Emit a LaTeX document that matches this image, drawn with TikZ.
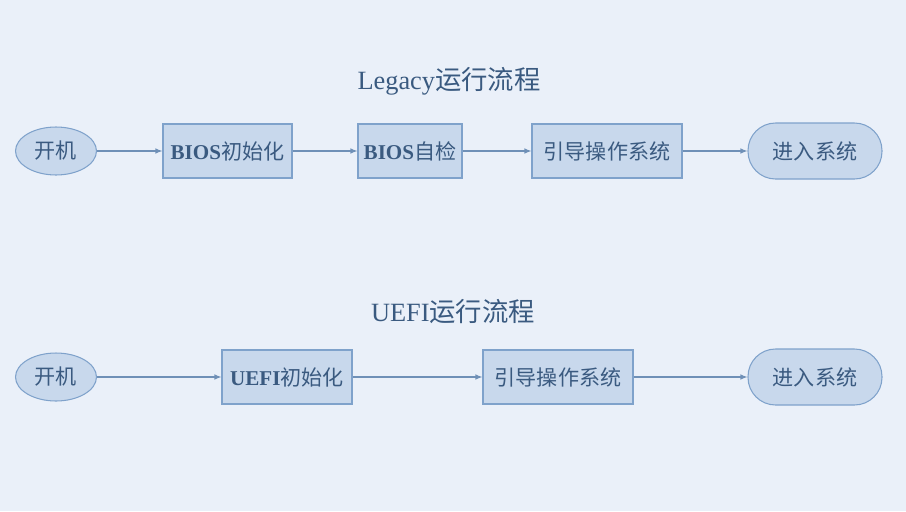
\documentclass[tikz,border=0pt]{standalone}
\usepackage{fontspec}
\setmainfont{Liberation Serif}
\newfontfamily\cjk{Noto Sans CJK SC}
\usetikzlibrary{arrows.meta,shapes.geometric}
\definecolor{bgblue}{HTML}{EAF0F9}
\definecolor{boxfill}{HTML}{C8D8EC}
\definecolor{boxline}{HTML}{7FA2CB}
\definecolor{txtblue}{HTML}{3A5A80}
\definecolor{arrowline}{HTML}{6F90B7}
\begin{document}
\begin{tikzpicture}[x=0.02cm,y=-0.02cm,
    every node/.style={text=txtblue,font=\fontsize{12}{14}\selectfont,inner sep=0pt},
    stepbox/.style={draw=boxline,fill=boxfill,line width=0.6pt,minimum height=1.08cm},
    startoval/.style={draw=boxline,fill=boxfill,ellipse,line width=0.6pt,minimum width=1.62cm,minimum height=0.96cm},
    endpill/.style={draw=boxline,fill=boxfill,rounded corners=0.55cm,line width=0.6pt,minimum width=2.68cm,minimum height=1.12cm},
    flow/.style={draw=arrowline,line width=0.6pt,-{Latex[length=1.4mm,width=1.1mm]}},
    heading/.style={font=\fontsize{15}{18}\selectfont}]
    \fill[bgblue] (0,0) rectangle (906,511);
    % Legacy
    \node[heading] (t1) at (449,81) {Legacy{\cjk 运行流程}};
    \node[startoval] (a) at (56,151) {\cjk 开机};
    \node[stepbox,minimum width=2.58cm] (b) at (227.5,151) {\textbf{BIOS}{\cjk 初始化}};
    \node[stepbox,minimum width=2.08cm] (c) at (410,151) {\textbf{BIOS}{\cjk 自检}};
    \node[stepbox,minimum width=3.0cm] (d) at (607,151) {\cjk 引导操作系统};
    \node[endpill] (e) at (815,151) {\cjk 进入系统};
    \draw[flow] (a) -- (b);
    \draw[flow] (b) -- (c);
    \draw[flow] (c) -- (d);
    \draw[flow] (d) -- (e);
    % UEFI
    \node[heading] (t2) at (453,312) {UEFI{\cjk 运行流程}};
    \node[startoval] (f) at (56,377) {\cjk 开机};
    \node[stepbox,minimum width=2.6cm] (g) at (287,377) {\textbf{UEFI}{\cjk 初始化}};
    \node[stepbox,minimum width=3.0cm] (h) at (558,377) {\cjk 引导操作系统};
    \node[endpill] (i) at (815,377) {\cjk 进入系统};
    \draw[flow] (f) -- (g);
    \draw[flow] (g) -- (h);
    \draw[flow] (h) -- (i);
\end{tikzpicture}
\end{document}
